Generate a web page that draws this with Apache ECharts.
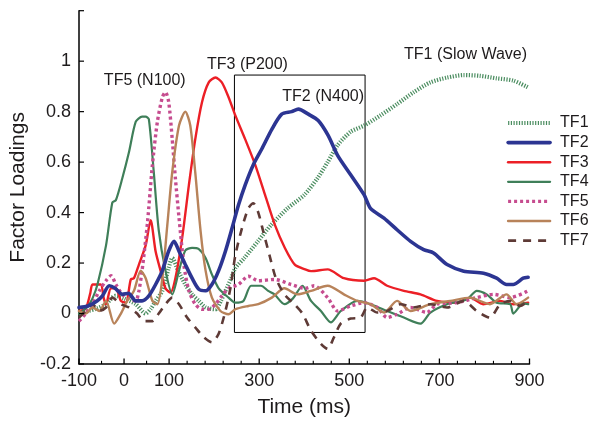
<!DOCTYPE html>
<html>
<head>
<meta charset="utf-8">
<script src="https://cdn.jsdelivr.net/npm/echarts@6/dist/echarts.min.js"></script>
<style>
html,body{margin:0;padding:0;background:#fff;}
#chart{width:592px;height:423px;}
</style>
</head>
<body>
<div id="chart"></div>
<script>
// ---- data (time in ms, factor loading) ----
const seriesNames = ['TF1','TF2','TF3','TF4','TF5','TF6','TF7'];

const tf1 = [[-100,0.0],[-80,0.01],[-60,0.02],[-40,0.037],[-20,0.07],[0,0.06],[26,0.037],[48,0.0],[60,0.02],[70,0.05],[85,0.09],[99,0.18],[107,0.22],[120,0.17],[136,0.115],[151,0.076],[166,0.05],[181,0.024],[203,0.017],[215,0.05],[225,0.09],[238,0.14],[247,0.18],[267,0.22],[297,0.286],[326,0.35],[363,0.417],[400,0.47],[429,0.535],[452,0.60],[474,0.667],[503,0.72],[533,0.745],[569,0.785],[606,0.83],[643,0.877],[680,0.916],[717,0.935],[754,0.945],[790,0.942],[827,0.932],[864,0.923],[897,0.896]];

const tf2 = [[-100,0.024],[-80,0.03],[-60,0.05],[-48,0.07],[-33,0.11],[-20,0.1],[-4,0.076],[10,0.08],[26,0.05],[40,0.05],[55,0.07],[70,0.115],[85,0.17],[99,0.247],[111,0.286],[122,0.247],[136,0.194],[151,0.14],[166,0.096],[181,0.09],[195,0.115],[210,0.17],[225,0.247],[240,0.34],[254,0.43],[269,0.51],[287,0.59],[306,0.653],[328,0.73],[350,0.79],[372,0.80],[387,0.81],[409,0.79],[431,0.765],[453,0.706],[474,0.627],[503,0.55],[533,0.47],[547,0.417],[577,0.378],[606,0.332],[636,0.286],[665,0.253],[687,0.24],[717,0.194],[754,0.168],[798,0.16],[827,0.14],[849,0.115],[864,0.115],[886,0.14],[897,0.144]];

const tf3 = [[-100,0.01],[-85,0.02],[-75,0.08],[-70,0.115],[-52,0.115],[-45,0.06],[-40,0.037],[-29,0.10],[-18,0.1],[-7,0.05],[4,0.043],[15,0.135],[22,0.14],[33,0.194],[48,0.27],[59,0.37],[70,0.247],[81,0.17],[92,0.10],[103,0.083],[114,0.14],[129,0.30],[144,0.51],[158,0.69],[173,0.837],[188,0.916],[203,0.935],[217,0.916],[232,0.857],[247,0.785],[269,0.69],[291,0.59],[313,0.47],[335,0.35],[357,0.26],[379,0.194],[402,0.175],[415,0.168],[452,0.175],[488,0.14],[533,0.13],[555,0.14],[584,0.11],[621,0.09],[658,0.076],[695,0.05],[739,0.043],[768,0.063],[797,0.037],[835,0.05],[864,0.037],[897,0.043]];

const tf4 = [[-100,0.0],[-92,0.01],[-80,0.03],[-70,0.06],[-59,0.115],[-40,0.27],[-26,0.44],[-18,0.45],[-4,0.535],[11,0.64],[26,0.76],[40,0.78],[48,0.78],[55,0.77],[66,0.56],[77,0.33],[92,0.17],[107,0.076],[122,0.17],[136,0.25],[151,0.26],[166,0.255],[181,0.22],[195,0.155],[210,0.10],[232,0.063],[247,0.043],[265,0.05],[282,0.11],[304,0.11],[320,0.09],[334,0.076],[356,0.037],[375,0.06],[396,0.11],[415,0.05],[437,0.01],[459,-0.035],[481,0.01],[518,0.05],[547,0.037],[584,0.01],[621,-0.016],[658,-0.04],[680,0.004],[717,0.037],[761,0.056],[783,0.09],[805,0.076],[827,0.043],[857,0.037],[864,0.0],[886,0.04],[897,0.037]];

const tf5 = [[-100,-0.03],[-85,0.0],[-70,0.037],[-55,0.09],[-40,0.13],[-29,0.15],[-18,0.115],[-4,0.076],[11,0.06],[26,0.05],[33,0.09],[40,0.17],[52,0.36],[63,0.59],[74,0.76],[85,0.857],[92,0.877],[99,0.84],[107,0.69],[114,0.535],[122,0.38],[133,0.19],[144,0.09],[158,0.037],[173,0.017],[188,0.017],[203,0.037],[217,0.07],[232,0.10],[254,0.115],[276,0.148],[298,0.13],[334,0.135],[371,0.115],[402,0.10],[422,0.11],[452,0.063],[474,0.01],[503,0.03],[533,0.043],[562,0.024],[584,-0.016],[606,-0.003],[636,0.024],[672,0.004],[695,0.037],[739,0.043],[783,0.063],[820,0.076],[857,0.063],[897,0.09]];

const tf6 = [[-100,0.01],[-85,0.0],[-70,0.024],[-55,0.01],[-40,0.05],[-22,-0.04],[-7,0.0],[7,0.05],[22,0.09],[37,0.17],[48,0.14],[63,0.05],[74,0.037],[85,0.14],[96,0.35],[107,0.56],[122,0.745],[136,0.80],[147,0.745],[158,0.56],[170,0.325],[181,0.17],[195,0.063],[214,0.01],[232,-0.003],[247,0.017],[276,0.03],[298,0.037],[328,0.063],[356,0.10],[385,0.076],[415,0.09],[452,0.11],[488,0.076],[518,0.05],[547,0.037],[577,0.004],[606,0.05],[636,0.01],[680,0.037],[724,0.05],[768,0.063],[812,0.037],[849,0.076],[871,0.037],[897,0.063]];

const tf7 = [[-100,-0.016],[-85,0.01],[-70,0.037],[-55,0.01],[-40,0.024],[-26,0.063],[-7,0.037],[11,0.024],[29,0.0],[44,-0.03],[63,-0.03],[77,0.0],[92,0.037],[107,0.063],[122,0.037],[140,-0.016],[158,-0.055],[177,-0.094],[195,-0.114],[210,-0.08],[225,0.01],[236,0.10],[247,0.23],[262,0.34],[276,0.417],[287,0.437],[298,0.40],[309,0.325],[323,0.23],[337,0.14],[356,0.076],[378,0.037],[396,0.0],[415,-0.068],[437,-0.12],[452,-0.14],[466,-0.094],[481,-0.04],[503,-0.02],[525,-0.016],[540,0.024],[562,0.004],[584,0.01],[614,0.037],[643,0.024],[680,0.037],[717,0.024],[754,0.05],[783,0.01],[812,-0.016],[835,0.037],[857,0.05],[879,0.03],[897,0.05]];

// annotations: [time, loading, text]
const annotations = [[46,0.925,'TF5 (N100)'],[274,0.988,'TF3 (P200)'],[442,0.858,'TF2 (N400)'],[758,1.028,'TF1 (Slow Wave)']];
// highlighted window: [[t0, top], [t1, bottom]]
const boxRange = [[245,0.945],[535,-0.075]];

// axis ticks / labels
const xTickValues = [-100,-50,0,50,100,140,180,220,260,300,340,380,420,460,500,540,580,620,660,700,740,780,820,860,900];
const xMajorTicks = [-100,0,100,300,500,700,900];
const xLabelValues = [-100,0,100,300,500,700,900];
const yTickValues = [-0.2,0,0.2,0.4,0.6,0.8,1.0,1.2];

// ---- styles ----
const styles = {
  TF1:{color:'#4b8d60', width:4.2, type:[1.2,1.5], cap:'butt'},
  TF2:{color:'#2c3592', width:3.6, type:'solid', cap:'round'},
  TF3:{color:'#ec1f26', width:2.4, type:'solid', cap:'round'},
  TF4:{color:'#3f7f59', width:2.2, type:'solid', cap:'round'},
  TF5:{color:'#c64c8f', width:3.4, type:[3,3], cap:'butt'},
  TF6:{color:'#b8835a', width:2.4, type:'solid', cap:'round'},
  TF7:{color:'#5e3a36', width:2.6, type:[8,7], cap:'butt'}
};
const dataMap = {TF1:tf1,TF2:tf2,TF3:tf3,TF4:tf4,TF5:tf5,TF6:tf6,TF7:tf7};
const zMap = {TF1:2,TF2:4,TF3:3,TF4:3,TF5:3,TF6:3,TF7:3};

const FONT = 'Liberation Sans, Arial, Helvetica, sans-serif';
const TXT = '#1e1b1c';
const X_MIN = -100, X_MAX = 900, Y_MIN = -0.2, Y_MAX = 1.2;

const chart = echarts.init(document.getElementById('chart'), null, {renderer:'canvas'});

const lineSeries = seriesNames.map(n => ({
  name:n, type:'line', data:dataMap[n],
  showSymbol:false, symbol:'none', smooth:0.25, z:zMap[n],
  lineStyle:{color:styles[n].color, width:styles[n].width, type:styles[n].type, cap:styles[n].cap},
  itemStyle:{color:styles[n].color},
  emphasis:{disabled:true}, animation:false
}));

const annSeries = {
  name:'annotations', type:'scatter',
  data:annotations, symbolSize:0, silent:true, animation:false, z:5,
  label:{show:true, position:[0,0], align:'center', verticalAlign:'middle',
    formatter:p => p.value[2], fontFamily:FONT, fontSize:16, color:TXT, opacity:1},
  markArea:{silent:true, itemStyle:{color:'rgba(0,0,0,0)', borderColor:'#000', borderWidth:1},
    data:[[{xAxis:boxRange[0][0], yAxis:boxRange[0][1]},{xAxis:boxRange[1][0], yAxis:boxRange[1][1]}]]}
};

// axis tick marks (drawn through the axis scales)
const xTickSeries = {
  name:'xticks', type:'custom', silent:true, animation:false, clip:false, z:6,
  data:xTickValues.map(v => [v, Y_MIN, xMajorTicks.indexOf(v) >= 0 ? 1 : 0]),
  renderItem:(params, api) => {
    const p = api.coord([api.value(0), api.value(1)]);
    const len = api.value(2) ? 5.5 : 3.2;
    return {type:'line', shape:{x1:p[0], y1:p[1], x2:p[0], y2:p[1]-len},
      style:{stroke:'#000', lineWidth:api.value(2) ? 1.3 : 1.1}};
  }
};
const yTickSeries = {
  name:'yticks', type:'custom', silent:true, animation:false, clip:false, z:6,
  data:yTickValues.map(v => [X_MIN, v]),
  renderItem:(params, api) => {
    const p = api.coord([api.value(0), api.value(1)]);
    return {type:'line', shape:{x1:p[0], y1:p[1], x2:p[0]+5, y2:p[1]},
      style:{stroke:'#000', lineWidth:1.2}};
  }
};

const legendData = seriesNames.map(n => ({
  name:n,
  itemStyle:{color:'rgba(0,0,0,0)', opacity:0, borderWidth:0},
  lineStyle:{color:styles[n].color, width:styles[n].width, type:styles[n].type, cap:styles[n].cap, opacity:1}
}));

const option = {
  backgroundColor:'#fff',
  animation:false,
  grid:{left:77, right:62.5, top:10.7, bottom:56.5},
  legend:{
    data:legendData, orient:'vertical', left:501, top:110,
    itemWidth:42, itemHeight:14, itemGap:3.6,
    textStyle:{fontFamily:FONT, fontSize:16, lineHeight:16, color:TXT, padding:[0,0,0,5]},
    selectedMode:false
  },
  xAxis:{
    type:'value', min:X_MIN, max:X_MAX,
    name:'Time (ms)', nameLocation:'middle', nameGap:33,
    nameTextStyle:{fontFamily:FONT, fontSize:21, color:TXT},
    axisLine:{show:true, onZero:false, lineStyle:{color:'#000', width:1.5}},
    axisTick:{show:false},
    axisLabel:{customValues:xLabelValues, margin:8, fontFamily:FONT, fontSize:18, color:TXT},
    splitLine:{show:false}
  },
  yAxis:{
    type:'value', min:Y_MIN, max:Y_MAX, interval:0.2,
    name:'Factor Loadings', nameLocation:'middle', nameGap:50, nameRotate:90,
    nameTextStyle:{fontFamily:FONT, fontSize:21, color:TXT},
    axisLine:{show:true, onZero:false, lineStyle:{color:'#000', width:1.5}},
    axisTick:{show:false},
    axisLabel:{margin:8, fontFamily:FONT, fontSize:18, color:TXT,
      formatter:v => (v > 1.01 ? '' : String(Math.round(v*10)/10))},
    splitLine:{show:false}
  },
  series:[...lineSeries, annSeries, xTickSeries, yTickSeries]
};
chart.setOption(option);
</script>
</body>
</html>
